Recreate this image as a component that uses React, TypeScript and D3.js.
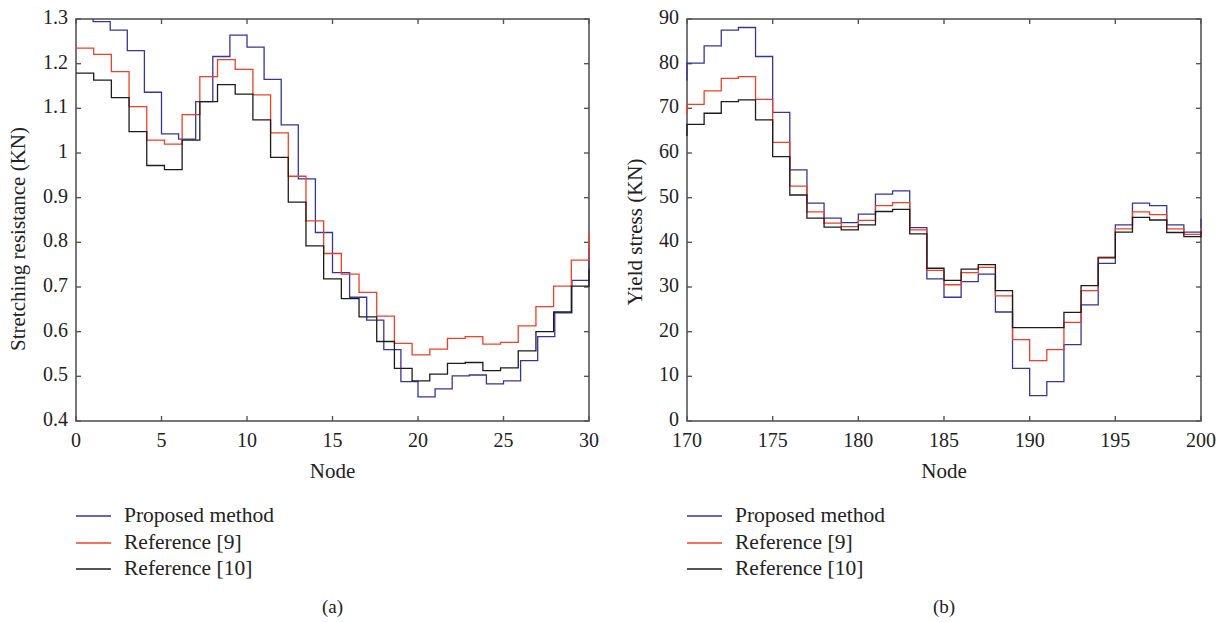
import React from "react";
import * as d3 from "d3";

// panel (a): stretching resistance, nodes 0..30
const leftProposed = [
  1.31, 1.294, 1.275, 1.229, 1.136, 1.043, 1.031, 1.115, 1.216, 1.264, 1.237,
  1.165, 1.063, 0.942, 0.822, 0.732, 0.677, 0.626, 0.56, 0.488, 0.454, 0.472,
  0.501, 0.503, 0.483, 0.49, 0.535, 0.589, 0.642, 0.715, 0.786,
];
const leftRef9 = [
  1.235, 1.221, 1.182, 1.104, 1.029, 1.02, 1.086, 1.171, 1.209, 1.187, 1.13,
  1.045, 0.948, 0.848, 0.775, 0.729, 0.688, 0.635, 0.574, 0.548, 0.561, 0.585,
  0.589, 0.572, 0.576, 0.613, 0.656, 0.702, 0.76, 0.819,
];
const leftRef10 = [
  1.179, 1.163, 1.124, 1.048, 0.972, 0.963, 1.029, 1.115, 1.153, 1.132, 1.074,
  0.99, 0.89, 0.792, 0.718, 0.674, 0.633, 0.578, 0.518, 0.49, 0.505, 0.529,
  0.531, 0.513, 0.519, 0.557, 0.6, 0.644, 0.702, 0.74,
];
const leftYTicks = [0.4, 0.5, 0.6, 0.7, 0.8, 0.9, 1, 1.1, 1.2, 1.3];
const leftXTicks = [0, 5, 10, 15, 20, 25, 30];

// panel (b): yield stress, nodes 169..200 (169 is clipped)
const rightProposed = [
  76.4, 80.1, 84.0, 87.5, 88.1, 81.6, 69.1, 56.2, 48.8, 45.4, 44.4, 46.3, 50.8,
  51.5, 43.3, 31.8, 27.7, 31.2, 32.9, 24.4, 11.8, 5.7, 8.8, 17.1, 26.0, 35.3,
  43.9, 48.8, 48.2, 43.9, 42.3, 45.3,
];
const rightRef9 = [
  68.9, 70.9, 73.9, 76.7, 77.1, 72.0, 62.4, 52.6, 46.8, 44.3, 43.5, 44.9, 48.2,
  48.9, 42.8, 33.7, 30.5, 33.2, 34.4, 28.0, 18.2, 13.5, 16.0, 22.1, 29.2, 36.7,
  43.0, 46.8, 46.2, 43.0, 41.8, 43.2,
];
const rightRef10 = [
  64.0, 66.4, 68.9, 71.5, 71.9, 67.4, 59.2, 50.6, 45.4, 43.4, 42.8, 43.9, 46.9,
  47.4, 41.9, 34.2, 31.5, 34.0, 35.0, 29.2, 20.9, 20.9, 20.9, 24.3, 30.3, 36.5,
  42.3, 45.6, 45.0, 42.2, 41.3, 42.5,
];
const rightYTicks = [0, 10, 20, 30, 40, 50, 60, 70, 80, 90];
const rightXTicks = [170, 175, 180, 185, 190, 195, 200];

const seriesNames = ["Proposed method", "Reference [9]", "Reference [10]"];
const seriesColors = ["#35359a", "#ee4026", "#1c1c1c"];

const FONT = "'Liberation Serif', 'DejaVu Serif', serif";
const AXIS = "#555";
const INK = "#222";

type Series = { xs: number[]; ys: number[] };

type PanelProps = {
  id: string;
  left: number;
  right: number;
  top: number;
  bottom: number;
  xDomain: [number, number];
  yDomain: [number, number];
  xTicks: number[];
  yTicks: number[];
  series: Series[];
  yLabel: string;
  yLabelX: number;
  yLabelY: number;
  caption: string;
};

function Panel(p: PanelProps) {
  const x = d3.scaleLinear().domain(p.xDomain).range([p.left, p.right]);
  const y = d3.scaleLinear().domain(p.yDomain).range([p.bottom, p.top]);
  const line = d3
    .line<[number, number]>()
    .x((d) => x(d[0]))
    .y((d) => y(d[1]))
    .curve(d3.curveStepAfter);
  const tickLen = 5;
  const cx = (p.left + p.right) / 2;
  const legendY = [516, 543, 569];

  return (
    <g>
      <defs>
        <clipPath id={p.id}>
          <rect x={p.left - 1} y={p.top} width={p.right - p.left + 2} height={p.bottom - p.top} />
        </clipPath>
      </defs>
      <rect
        x={p.left}
        y={p.top}
        width={p.right - p.left}
        height={p.bottom - p.top}
        fill="none"
        stroke={AXIS}
        strokeWidth={1.6}
      />
      {p.xTicks.map((t) => (
        <g key={"x" + t}>
          <line x1={x(t)} x2={x(t)} y1={p.bottom} y2={p.bottom - tickLen} stroke={AXIS} strokeWidth={1.4} />
          <line x1={x(t)} x2={x(t)} y1={p.top} y2={p.top + tickLen} stroke={AXIS} strokeWidth={1.4} />
          <text x={x(t)} y={p.bottom + 26} textAnchor="middle" fontSize={20} fontFamily={FONT} fill={INK}>
            {t}
          </text>
        </g>
      ))}
      {p.yTicks.map((t) => (
        <g key={"y" + t}>
          <line x1={p.left} x2={p.left + tickLen} y1={y(t)} y2={y(t)} stroke={AXIS} strokeWidth={1.4} />
          <line x1={p.right} x2={p.right - tickLen} y1={y(t)} y2={y(t)} stroke={AXIS} strokeWidth={1.4} />
          <text x={p.left - 8} y={y(t) + 5} textAnchor="end" fontSize={20} fontFamily={FONT} fill={INK}>
            {t}
          </text>
        </g>
      ))}
      <g clipPath={`url(#${p.id})`}>
        {p.series.map((s, i) => (
          <path
            key={i}
            d={line(s.xs.map((v, j) => [v, s.ys[j]] as [number, number])) || ""}
            fill="none"
            stroke={seriesColors[i]}
            strokeWidth={1.3}
          />
        ))}
      </g>
      <text x={cx} y={p.bottom + 57} textAnchor="middle" fontSize={21} fontFamily={FONT} fill={INK}>
        Node
      </text>
      <text
        transform={`translate(${p.yLabelX},${p.yLabelY}) rotate(-90)`}
        textAnchor="middle"
        fontSize={21}
        fontFamily={FONT}
        fill={INK}
      >
        {p.yLabel}
      </text>
      {seriesNames.map((name, i) => (
        <g key={name}>
          <line
            x1={p.left}
            x2={p.left + 35}
            y1={legendY[i]}
            y2={legendY[i]}
            stroke={seriesColors[i]}
            strokeWidth={1.3}
          />
          <text x={p.left + 48} y={legendY[i] + 6} fontSize={21.5} fontFamily={FONT} fill={INK}>
            {name}
          </text>
        </g>
      ))}
      <text x={cx} y={613} textAnchor="middle" fontSize={19} fontFamily={FONT} fill={INK}>
        {p.caption}
      </text>
    </g>
  );
}

export default function App() {
  const leftFine = d3.range(leftProposed.length);
  const leftCoarse = d3.range(leftRef9.length).map((k) => (k * 30) / (leftRef9.length - 1));
  const rightNodes = d3.range(rightProposed.length).map((k) => 169 + k);

  return (
    <svg width={1227} height={622} style={{ position: "absolute", left: 0, top: 0, background: "#fff" }}>
      <Panel
        id="clipA"
        left={76}
        right={589}
        top={19}
        bottom={421}
        xDomain={[0, 30]}
        yDomain={[0.4, 1.3]}
        xTicks={leftXTicks}
        yTicks={leftYTicks}
        series={[
          { xs: leftFine, ys: leftProposed },
          { xs: leftCoarse, ys: leftRef9 },
          { xs: leftCoarse, ys: leftRef10 },
        ]}
        yLabel="Stretching resistance (KN)"
        yLabelX={25}
        yLabelY={239}
        caption="(a)"
      />
      <Panel
        id="clipB"
        left={687}
        right={1201}
        top={19}
        bottom={421}
        xDomain={[170, 200]}
        yDomain={[0, 90]}
        xTicks={rightXTicks}
        yTicks={rightYTicks}
        series={[
          { xs: rightNodes, ys: rightProposed },
          { xs: rightNodes, ys: rightRef9 },
          { xs: rightNodes, ys: rightRef10 },
        ]}
        yLabel="Yield stress (KN)"
        yLabelX={642}
        yLabelY={232}
        caption="(b)"
      />
    </svg>
  );
}
